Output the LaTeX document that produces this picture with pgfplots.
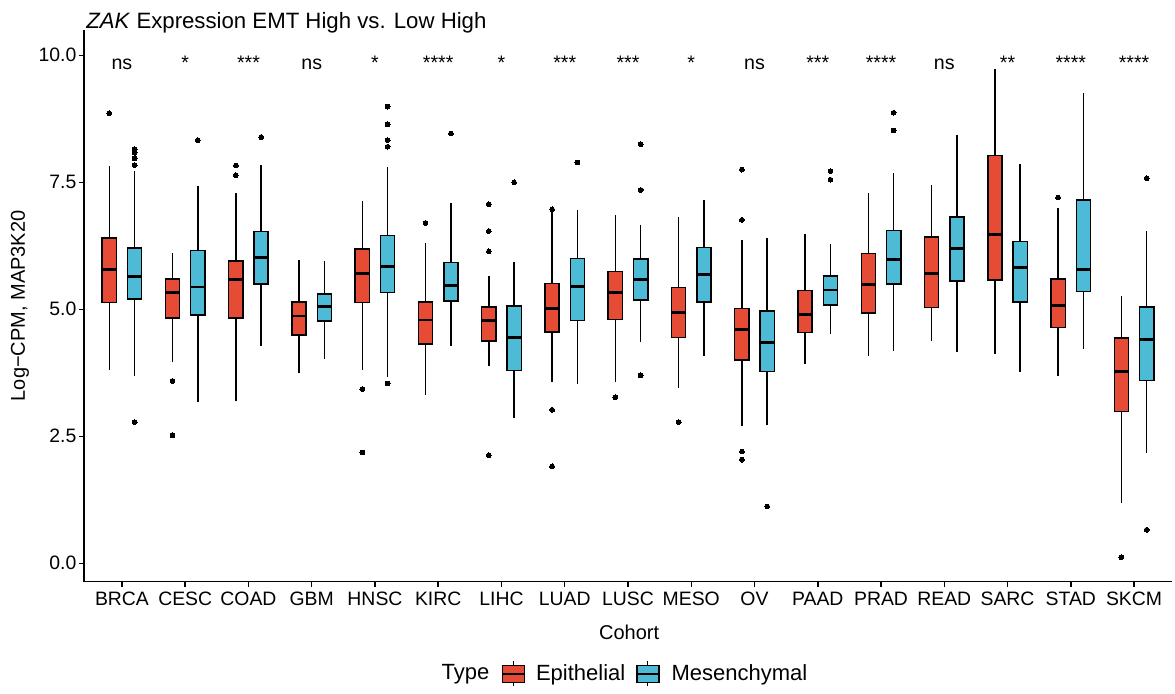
\documentclass[border=0pt]{standalone}
\usepackage{fontspec}
\setmainfont{Liberation Sans}
\usepackage{pgfplots}
\pgfplotsset{compat=1.18}
\usepgfplotslibrary{statistics}
\definecolor{epi}{HTML}{E64B35}
\definecolor{mes}{HTML}{4DBBD5}

% one box: position, colour, lower whisker, Q1, median, Q3, upper whisker
\pgfplotsset{
  bp/.style n args={7}{
    forget plot, draw=black, line width=0.75pt, fill=#2,
    mark=*, mark size=1.2pt,
    mark options={fill=black, draw=black, solid, line width=0pt},
    boxplot prepared={draw position=#1, draw direction=y,
      lower whisker=#3, lower quartile=#4, median=#5,
      upper quartile=#6, upper whisker=#7,
      box extend=0.225, whisker extend=0,
      every median/.style={line width=1.4pt},
      every whisker/.style={line width=0.7pt}}
  },
  boxkey/.style={legend image code/.code={
    \draw[black, line width=0.6pt] (5.5pt,-6.25pt) -- (5.5pt,6.25pt);
    \filldraw[fill=#1, draw=black, line width=0.7pt] (0pt,-4.25pt) rectangle (11pt,4.25pt);
    \draw[black, line width=1.2pt] (0pt,0pt) -- (11pt,0pt);
  }}
}

\begin{document}
\begin{tikzpicture}
\begin{axis}[
  at={(0,0)}, anchor=south west,
  scale only axis, width=544pt, height=275.9pt,
  xmin=0.4, xmax=17.6, ymin=-0.362, ymax=10.5,
  axis lines*=left,
  axis line style={-, black, line width=0.75pt},
  tick align=outside, major tick length=2.5pt,
  tick style={black, line width=0.75pt},
  xtick={1,...,17},
  xticklabels={BRCA,CESC,COAD,GBM,HNSC,KIRC,LIHC,LUAD,LUSC,MESO,OV,PAAD,PRAD,READ,SARC,STAD,SKCM},
  ytick={0,2.5,5,7.5,10},
  /pgf/number format/assume math mode=true,
  y tick label style={/pgf/number format/fixed, /pgf/number format/fixed zerofill,
                      /pgf/number format/precision=1},
  tick label style={font=\fontsize{9.7}{11}\selectfont, text=black},
  xticklabel style={anchor=north, inner sep=0pt, yshift=-2.5pt},
  yticklabel style={anchor=east, inner sep=0pt, xshift=-1.15pt},
  xlabel={Cohort},
  ylabel={Log−CPM, MAP3K20},
  label style={font=\fontsize{10.6}{12}\selectfont},
  every axis x label/.style={at={(axis description cs:0.501,-0.0915)}, anchor=center},
  every axis y label/.style={at={(axis description cs:-0.0588,0.5)}, rotate=90, anchor=center},
  title={\textit{ZAK} Expression EMT High vs. Low High},
  every axis title/.style={at={(axis description cs:0.0018,1.003)}, anchor=base west,
               inner sep=0pt, font=\fontsize{11.1}{13}\selectfont},
  legend columns=-1,
  legend style={at={(axis description cs:0.4968,-0.167)}, anchor=center,
                draw=none, fill=none, inner sep=0pt,
                nodes={inner sep=0pt}, column sep=0pt,
                font=\fontsize{11}{13}\selectfont},
]
% BRCA
\addplot[bp={0.8}{epi}{3.80}{5.13}{5.79}{6.40}{7.83}] table[row sep=\\, y index=0] {8.86\\};
\addplot[bp={1.2}{mes}{3.69}{5.20}{5.64}{6.21}{7.72}] table[row sep=\\, y index=0] {8.15\\8.08\\7.97\\7.84\\2.78\\};
% CESC
\addplot[bp={1.8}{epi}{3.96}{4.83}{5.33}{5.60}{6.10}] table[row sep=\\, y index=0] {3.59\\2.52\\};
\addplot[bp={2.2}{mes}{3.17}{4.89}{5.44}{6.16}{7.43}] table[row sep=\\, y index=0] {8.33\\};
% COAD
\addplot[bp={2.8}{epi}{3.19}{4.83}{5.58}{5.95}{7.28}] table[row sep=\\, y index=0] {7.83\\7.64\\};
\addplot[bp={3.2}{mes}{4.28}{5.50}{6.02}{6.53}{7.85}] table[row sep=\\, y index=0] {8.39\\};
% GBM
\addplot[bp={3.8}{epi}{3.74}{4.49}{4.87}{5.14}{5.98}] coordinates {};
\addplot[bp={4.2}{mes}{4.03}{4.77}{5.06}{5.30}{5.96}] coordinates {};
% HNSC
\addplot[bp={4.8}{epi}{3.80}{5.13}{5.71}{6.19}{7.14}] table[row sep=\\, y index=0] {3.43\\2.18\\};
\addplot[bp={5.2}{mes}{3.67}{5.33}{5.85}{6.45}{7.81}] table[row sep=\\, y index=0] {8.99\\8.64\\8.33\\8.20\\3.54\\};
% KIRC
\addplot[bp={5.8}{epi}{3.32}{4.32}{4.79}{5.14}{6.31}] table[row sep=\\, y index=0] {6.70\\};
\addplot[bp={6.2}{mes}{4.28}{5.16}{5.47}{5.92}{7.09}] table[row sep=\\, y index=0] {8.46\\};
% LIHC
\addplot[bp={6.8}{epi}{3.89}{4.38}{4.78}{5.05}{5.65}] table[row sep=\\, y index=0] {7.07\\6.54\\6.14\\2.13\\};
\addplot[bp={7.2}{mes}{2.86}{3.80}{4.45}{5.07}{5.94}] table[row sep=\\, y index=0] {7.50\\};
% LUAD
\addplot[bp={7.8}{epi}{3.57}{4.55}{5.01}{5.51}{6.93}] table[row sep=\\, y index=0] {6.97\\3.02\\1.91\\};
\addplot[bp={8.2}{mes}{3.53}{4.78}{5.45}{6.00}{6.95}] table[row sep=\\, y index=0] {7.89\\};
% LUSC
\addplot[bp={8.8}{epi}{3.57}{4.80}{5.33}{5.74}{6.85}] table[row sep=\\, y index=0] {3.27\\};
\addplot[bp={9.2}{mes}{4.35}{5.18}{5.58}{5.99}{6.66}] table[row sep=\\, y index=0] {8.25\\7.35\\3.70\\};
% MESO
\addplot[bp={9.8}{epi}{3.46}{4.45}{4.93}{5.43}{6.82}] table[row sep=\\, y index=0] {2.78\\};
\addplot[bp={10.2}{mes}{4.08}{5.14}{5.69}{6.22}{7.15}] coordinates {};
% OV
\addplot[bp={10.8}{epi}{2.70}{4.00}{4.61}{5.02}{6.37}] table[row sep=\\, y index=0] {7.75\\6.76\\2.20\\2.04\\};
\addplot[bp={11.2}{mes}{2.72}{3.78}{4.35}{4.97}{6.40}] table[row sep=\\, y index=0] {1.12\\};
% PAAD
\addplot[bp={11.8}{epi}{3.92}{4.54}{4.90}{5.37}{6.48}] coordinates {};
\addplot[bp={12.2}{mes}{4.52}{5.08}{5.38}{5.66}{6.29}] table[row sep=\\, y index=0] {7.72\\7.55\\};
% PRAD
\addplot[bp={12.8}{epi}{4.08}{4.93}{5.49}{6.10}{7.28}] coordinates {};
\addplot[bp={13.2}{mes}{4.17}{5.50}{5.98}{6.55}{7.68}] table[row sep=\\, y index=0] {8.87\\8.52\\};
% READ
\addplot[bp={13.8}{epi}{4.37}{5.04}{5.71}{6.42}{7.45}] coordinates {};
\addplot[bp={14.2}{mes}{4.15}{5.56}{6.19}{6.82}{8.43}] coordinates {};
% SARC
\addplot[bp={14.8}{epi}{4.12}{5.58}{6.48}{8.03}{9.74}] coordinates {};
\addplot[bp={15.2}{mes}{3.77}{5.14}{5.83}{6.33}{7.87}] coordinates {};
% STAD
\addplot[bp={15.8}{epi}{3.69}{4.64}{5.08}{5.60}{6.99}] table[row sep=\\, y index=0] {7.20\\};
\addplot[bp={16.2}{mes}{4.22}{5.35}{5.78}{7.15}{9.26}] coordinates {};
% SKCM
\addplot[bp={16.8}{epi}{1.18}{2.99}{3.77}{4.44}{5.26}] table[row sep=\\, y index=0] {0.12\\};
\addplot[bp={17.2}{mes}{2.18}{3.60}{4.40}{5.05}{6.54}] table[row sep=\\, y index=0] {7.58\\0.66\\};

% significance labels
\addplot[forget plot, draw=none, mark=none, nodes near coords, point meta=explicit symbolic,
  every node near coord/.append style={anchor=base, inner sep=0pt, yshift=0pt,
    font=\fontsize{9.8}{11}\selectfont, text=black}]
  coordinates {
  (1,9.73)[ns] (2,9.73)[*] (3,9.73)[***] (4,9.73)[ns] (5,9.73)[*] (6,9.73)[****]
  (7,9.73)[*] (8,9.73)[***] (9,9.73)[***] (10,9.73)[*] (11,9.73)[ns] (12,9.73)[***]
  (13,9.73)[****] (14,9.73)[ns] (15,9.73)[**] (16,9.73)[****] (17,9.73)[****]
};

\addlegendimage{empty legend}
\addlegendentry{Type\kern5.85pt}
\addlegendimage{boxkey=epi}
\addlegendentry{\kern5.3pt Epithelial\kern5.15pt}
\addlegendimage{boxkey=mes}
\addlegendentry{\kern5.8pt Mesenchymal}
\end{axis}
\pgfresetboundingbox
\path (-42pt,-55.65pt) rectangle (545.5pt,290.85pt);
\end{tikzpicture}
\end{document}
